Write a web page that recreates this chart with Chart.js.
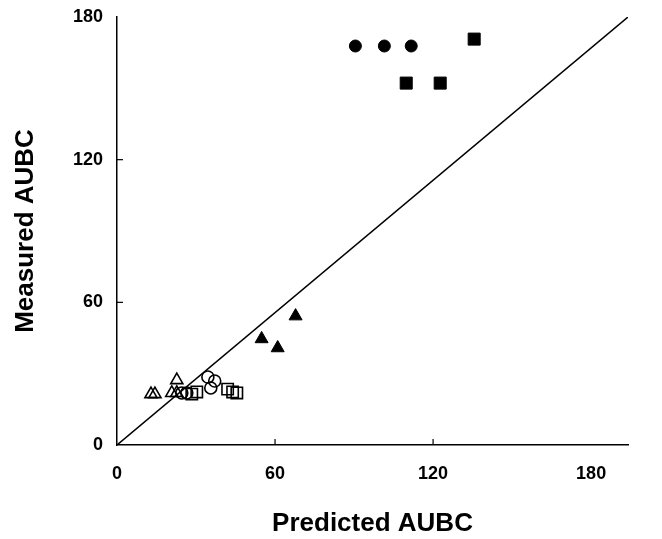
<!DOCTYPE html>
<html>
<head>
<meta charset="utf-8">
<script src="https://cdn.jsdelivr.net/npm/chart.js@4/dist/chart.umd.min.js"></script>
<style>
  html, body { margin: 0; padding: 0; background: #fff; }
  #wrap { width: 662px; height: 539px; }
</style>
</head>
<body>
<div id="wrap"><canvas id="chart" width="662" height="539"></canvas></div>
<script>
// tick values shown on both axes
const tickValues = [0, 60, 120, 180];
const xMax = 194;
const yMax = 180;

// filled markers
const filledCircles = [[90.5, 167.8], [101.5, 167.8], [111.7, 167.8]];
const filledSquares = [[135.6, 170.7], [109.8, 152.2], [122.7, 152.2]];
const filledTriangles = [[67.8, 54.2], [54.9, 44.6], [61.0, 40.8]];

// open markers
const openTriangles = [[12.9, 21.4], [14.4, 21.4], [22.7, 27.3], [20.8, 21.9], [22.7, 21.9]];
const openCircles = [[34.5, 28.6], [37.1, 26.9], [35.6, 24.0], [24.6, 21.9], [26.5, 21.9]];
const openSquares = [[28.4, 21.4], [30.3, 22.3], [42.0, 23.5], [43.9, 22.3], [45.5, 21.9]];

// reference line, corner to corner of the plot
const refLine = [[0, 0], [xMax, yMax]];

const toPts = arr => arr.map(([x, y]) => ({ x, y }));
const FONT = '"Liberation Sans", Arial, sans-serif';

function scatterSet(data, style, radius, filled) {
  return {
    type: 'scatter',
    data: toPts(data),
    pointStyle: style,
    pointRadius: radius,
    pointHoverRadius: radius,
    pointBackgroundColor: filled ? '#000' : 'rgba(0,0,0,0)',
    pointBorderColor: '#000',
    pointBorderWidth: filled ? 1 : 1.6
  };
}

// inward tick marks at 60 and 120
const innerTicks = {
  id: 'innerTicks',
  afterDatasetsDraw(chart) {
    const { ctx, scales: { x, y } } = chart;
    ctx.save();
    ctx.strokeStyle = '#000';
    ctx.lineWidth = 1.2;
    [60, 120].forEach(v => {
      const px = x.getPixelForValue(v);
      ctx.beginPath();
      ctx.moveTo(px, y.bottom);
      ctx.lineTo(px, y.bottom - 6);
      ctx.stroke();
      const py = y.getPixelForValue(v);
      ctx.beginPath();
      ctx.moveTo(x.left, py);
      ctx.lineTo(x.left + 6, py);
      ctx.stroke();
    });
    ctx.restore();
  }
};

new Chart(document.getElementById('chart'), {
  data: {
    datasets: [
      {
        type: 'line',
        data: toPts(refLine),
        borderColor: '#000',
        borderWidth: 1.5,
        pointRadius: 0,
        fill: false
      },
      scatterSet(filledCircles, 'circle', 6, true),
      scatterSet(filledSquares, 'rect', 8.5, true),
      scatterSet(filledTriangles, 'triangle', 7.5, true),
      scatterSet(openTriangles, 'triangle', 7, false),
      scatterSet(openCircles, 'circle', 6, false),
      scatterSet(openSquares, 'rect', 8, false)
    ]
  },
  options: {
    responsive: false,
    animation: false,
    layout: { padding: { left: 0, top: 17, right: 34, bottom: 0 } },
    plugins: { legend: { display: false }, tooltip: { enabled: false } },
    scales: {
      x: {
        type: 'linear',
        min: 0,
        max: xMax,
        afterBuildTicks: s => { s.ticks = tickValues.map(v => ({ value: v })); },
        afterFit: s => { s.height = 94; s.paddingLeft = 0; s.paddingRight = 0; },
        grid: { display: false, drawTicks: false },
        border: { display: true, color: '#000', width: 1.5 },
        ticks: {
          color: '#000',
          padding: 18,
          maxRotation: 0,
          font: { family: FONT, size: 18, weight: 'bold' }
        },
        title: {
          display: true,
          text: 'Predicted AUBC',
          color: '#000',
          padding: { top: 0, bottom: 0 },
          font: { family: FONT, size: 26, weight: 'bold' }
        }
      },
      y: {
        type: 'linear',
        min: 0,
        max: yMax,
        afterBuildTicks: s => { s.ticks = tickValues.map(v => ({ value: v })); },
        afterFit: s => { s.width = 117; s.paddingTop = 0; s.paddingBottom = 0; },
        grid: { display: false, drawTicks: false },
        border: { display: true, color: '#000', width: 1.5 },
        ticks: {
          color: '#000',
          padding: 14,
          font: { family: FONT, size: 18, weight: 'bold' }
        },
        title: {
          display: true,
          text: 'Measured AUBC',
          color: '#000',
          padding: { top: 10, bottom: 0 },
          font: { family: FONT, size: 26, weight: 'bold' }
        }
      }
    }
  },
  plugins: [innerTicks]
});
</script>
</body>
</html>
